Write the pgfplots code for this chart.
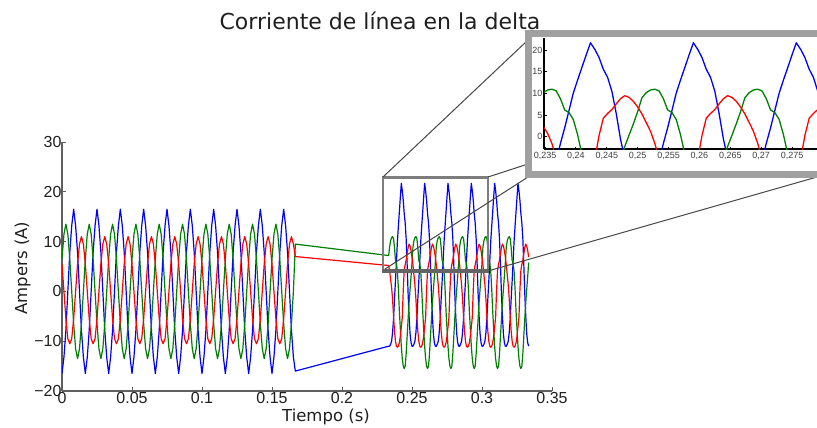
\documentclass[border=0pt]{standalone}
\usepackage{fontspec}
\setmainfont{Liberation Sans}
\newfontfamily\titlefont{DejaVu Sans}
\usepackage{pgfplots}
\pgfplotsset{compat=1.18}
\usepackage{pgfplotstable}

\definecolor{mblue}{RGB}{0,0,255}
\definecolor{mgreen}{RGB}{0,128,0}
\definecolor{mred}{RGB}{255,0,0}
\definecolor{axgray}{RGB}{95,95,95}
\definecolor{boxgray}{RGB}{125,125,125}
\definecolor{framegray}{RGB}{160,160,160}
\definecolor{linkgray}{RGB}{70,70,70}

\pgfplotstableread{
t B G R
0.00000 -16.5 6.5 5.5
0.00139 -13.2 11.5 0
0.00278 -7.8 13.5 -5.5
0.00417 0 11.5 -9.5
0.00556 7.8 6.5 -10.5
0.00694 13.2 0 -9.5
0.00833 16.5 -6.5 -5.5
0.00972 13.2 -11.5 0
0.01111 7.8 -13.5 5.5
0.01250 0 -11.5 9.5
0.01389 -7.8 -6.5 11
0.01528 -13.2 0 9.5
0.01667 -16.5 6.5 5.5
0.01806 -13.2 11.5 0
0.01944 -7.8 13.5 -5.5
0.02083 0 11.5 -9.5
0.02222 7.8 6.5 -10.5
0.02361 13.2 0 -9.5
0.02500 16.5 -6.5 -5.5
0.02639 13.2 -11.5 0
0.02778 7.8 -13.5 5.5
0.02917 0 -11.5 9.5
0.03056 -7.8 -6.5 11
0.03194 -13.2 0 9.5
0.03333 -16.5 6.5 5.5
0.03472 -13.2 11.5 0
0.03611 -7.8 13.5 -5.5
0.03750 0 11.5 -9.5
0.03889 7.8 6.5 -10.5
0.04028 13.2 0 -9.5
0.04167 16.5 -6.5 -5.5
0.04306 13.2 -11.5 0
0.04444 7.8 -13.5 5.5
0.04583 0 -11.5 9.5
0.04722 -7.8 -6.5 11
0.04861 -13.2 0 9.5
0.05000 -16.5 6.5 5.5
0.05139 -13.2 11.5 0
0.05278 -7.8 13.5 -5.5
0.05417 0 11.5 -9.5
0.05556 7.8 6.5 -10.5
0.05694 13.2 0 -9.5
0.05833 16.5 -6.5 -5.5
0.05972 13.2 -11.5 0
0.06111 7.8 -13.5 5.5
0.06250 0 -11.5 9.5
0.06389 -7.8 -6.5 11
0.06528 -13.2 0 9.5
0.06667 -16.5 6.5 5.5
0.06806 -13.2 11.5 0
0.06944 -7.8 13.5 -5.5
0.07083 0 11.5 -9.5
0.07222 7.8 6.5 -10.5
0.07361 13.2 0 -9.5
0.07500 16.5 -6.5 -5.5
0.07639 13.2 -11.5 0
0.07778 7.8 -13.5 5.5
0.07917 0 -11.5 9.5
0.08056 -7.8 -6.5 11
0.08194 -13.2 0 9.5
0.08333 -16.5 6.5 5.5
0.08472 -13.2 11.5 0
0.08611 -7.8 13.5 -5.5
0.08750 0 11.5 -9.5
0.08889 7.8 6.5 -10.5
0.09028 13.2 0 -9.5
0.09167 16.5 -6.5 -5.5
0.09306 13.2 -11.5 0
0.09444 7.8 -13.5 5.5
0.09583 0 -11.5 9.5
0.09722 -7.8 -6.5 11
0.09861 -13.2 0 9.5
0.10000 -16.5 6.5 5.5
0.10139 -13.2 11.5 0
0.10278 -7.8 13.5 -5.5
0.10417 0 11.5 -9.5
0.10556 7.8 6.5 -10.5
0.10694 13.2 0 -9.5
0.10833 16.5 -6.5 -5.5
0.10972 13.2 -11.5 0
0.11111 7.8 -13.5 5.5
0.11250 0 -11.5 9.5
0.11389 -7.8 -6.5 11
0.11528 -13.2 0 9.5
0.11667 -16.5 6.5 5.5
0.11806 -13.2 11.5 0
0.11944 -7.8 13.5 -5.5
0.12083 0 11.5 -9.5
0.12222 7.8 6.5 -10.5
0.12361 13.2 0 -9.5
0.12500 16.5 -6.5 -5.5
0.12639 13.2 -11.5 0
0.12778 7.8 -13.5 5.5
0.12917 0 -11.5 9.5
0.13056 -7.8 -6.5 11
0.13194 -13.2 0 9.5
0.13333 -16.5 6.5 5.5
0.13472 -13.2 11.5 0
0.13611 -7.8 13.5 -5.5
0.13750 0 11.5 -9.5
0.13889 7.8 6.5 -10.5
0.14028 13.2 0 -9.5
0.14167 16.5 -6.5 -5.5
0.14306 13.2 -11.5 0
0.14444 7.8 -13.5 5.5
0.14583 0 -11.5 9.5
0.14722 -7.8 -6.5 11
0.14861 -13.2 0 9.5
0.15000 -16.5 6.5 5.5
0.15139 -13.2 11.5 0
0.15278 -7.8 13.5 -5.5
0.15417 0 11.5 -9.5
0.15556 7.8 6.5 -10.5
0.15694 13.2 0 -9.5
0.15833 16.5 -6.5 -5.5
0.15972 13.2 -11.5 0
0.16111 7.8 -13.5 5.5
0.16250 0 -11.5 9.5
0.16389 -7.8 -6.5 11
0.16528 -13.2 0 9.5
0.16667 -16 9.5 7
0.23333 -11 7.2 5.2
0.23403 -11 9.0 4.0
0.23472 -10.6 10.2 2.4
0.23542 -10 10.8 0.8
0.23611 -8.3 11 -1.5
0.23681 -5.5 10.6 -5
0.23750 -1.5 8.8 -8
0.23819 2.1 6.2 -10
0.23889 6.1 5.6 -11
0.23958 10.1 4 -11.2
0.24028 13.1 0.5 -11
0.24097 16 -4 -10.3
0.24167 18.9 -7.5 -9
0.24236 21.7 -11 -7.2
0.24306 20.2 -13.5 -5.2
0.24375 18.3 -15 0.3
0.24444 15.6 -15.5 4.3
0.24514 13.7 -15 5.4
0.24583 10.5 -12.5 6.3
0.24653 5.4 -9 7.6
0.24722 -0.5 -5.5 8.8
0.24792 -5 -2.2 9.5
0.24861 -8.5 0.4 9.1
0.24931 -10.3 3.0 8.2
0.25000 -11 5.8 6.9
0.25069 -11 9.0 5.3
0.25139 -10.6 10.2 3.3
0.25208 -10 10.8 1.3
0.25278 -8.3 11 -1.5
0.25347 -5.5 10.6 -5
0.25417 -1.5 8.8 -8
0.25486 2.1 6.2 -10
0.25556 6.1 5.6 -11
0.25625 10.1 4 -11.2
0.25694 13.1 0.5 -11
0.25764 16 -4 -10.3
0.25833 18.9 -7.5 -9
0.25903 21.7 -11 -7.2
0.25972 20.2 -13.5 -5.2
0.26042 18.3 -15 0.3
0.26111 15.6 -15.5 4.3
0.26181 13.7 -15 5.4
0.26250 10.5 -12.5 6.3
0.26319 5.4 -9 7.6
0.26389 -0.5 -5.5 8.8
0.26458 -5 -2.2 9.5
0.26528 -8.5 0.4 9.1
0.26597 -10.3 3.0 8.2
0.26667 -11 5.8 6.9
0.26736 -11 9.0 5.3
0.26806 -10.6 10.2 3.3
0.26875 -10 10.8 1.3
0.26944 -8.3 11 -1.5
0.27014 -5.5 10.6 -5
0.27083 -1.5 8.8 -8
0.27153 2.1 6.2 -10
0.27222 6.1 5.6 -11
0.27292 10.1 4 -11.2
0.27361 13.1 0.5 -11
0.27431 16 -4 -10.3
0.27500 18.9 -7.5 -9
0.27569 21.7 -11 -7.2
0.27639 20.2 -13.5 -5.2
0.27708 18.3 -15 0.3
0.27778 15.6 -15.5 4.3
0.27847 13.7 -15 5.4
0.27917 10.5 -12.5 6.3
0.27986 5.4 -9 7.6
0.28056 -0.5 -5.5 8.8
0.28125 -5 -2.2 9.5
0.28194 -8.5 0.4 9.1
0.28264 -10.3 3.0 8.2
0.28333 -11 5.8 6.9
0.28403 -11 9.0 5.3
0.28472 -10.6 10.2 3.3
0.28542 -10 10.8 1.3
0.28611 -8.3 11 -1.5
0.28681 -5.5 10.6 -5
0.28750 -1.5 8.8 -8
0.28819 2.1 6.2 -10
0.28889 6.1 5.6 -11
0.28958 10.1 4 -11.2
0.29028 13.1 0.5 -11
0.29097 16 -4 -10.3
0.29167 18.9 -7.5 -9
0.29236 21.7 -11 -7.2
0.29306 20.2 -13.5 -5.2
0.29375 18.3 -15 0.3
0.29444 15.6 -15.5 4.3
0.29514 13.7 -15 5.4
0.29583 10.5 -12.5 6.3
0.29653 5.4 -9 7.6
0.29722 -0.5 -5.5 8.8
0.29792 -5 -2.2 9.5
0.29861 -8.5 0.4 9.1
0.29931 -10.3 3.0 8.2
0.30000 -11 5.8 6.9
0.30069 -11 9.0 5.3
0.30139 -10.6 10.2 3.3
0.30208 -10 10.8 1.3
0.30278 -8.3 11 -1.5
0.30347 -5.5 10.6 -5
0.30417 -1.5 8.8 -8
0.30486 2.1 6.2 -10
0.30556 6.1 5.6 -11
0.30625 10.1 4 -11.2
0.30694 13.1 0.5 -11
0.30764 16 -4 -10.3
0.30833 18.9 -7.5 -9
0.30903 21.7 -11 -7.2
0.30972 20.2 -13.5 -5.2
0.31042 18.3 -15 0.3
0.31111 15.6 -15.5 4.3
0.31181 13.7 -15 5.4
0.31250 10.5 -12.5 6.3
0.31319 5.4 -9 7.6
0.31389 -0.5 -5.5 8.8
0.31458 -5 -2.2 9.5
0.31528 -8.5 0.4 9.1
0.31597 -10.3 3.0 8.2
0.31667 -11 5.8 6.9
0.31736 -11 9.0 5.3
0.31806 -10.6 10.2 3.3
0.31875 -10 10.8 1.3
0.31944 -8.3 11 -1.5
0.32014 -5.5 10.6 -5
0.32083 -1.5 8.8 -8
0.32153 2.1 6.2 -10
0.32222 6.1 5.6 -11
0.32292 10.1 4 -11.2
0.32361 13.1 0.5 -11
0.32431 16 -4 -10.3
0.32500 18.9 -7.5 -9
0.32569 21.7 -11 -7.2
0.32639 20.2 -13.5 -5.2
0.32708 18.3 -15 0.3
0.32778 15.6 -15.5 4.3
0.32847 13.7 -15 5.4
0.32917 10.5 -12.5 6.3
0.32986 5.4 -9 7.6
0.33056 -0.5 -5.5 8.8
0.33125 -5 -2.2 9.5
0.33194 -8.5 0.4 9.1
0.33264 -10.3 3.0 8.2
0.33333 -11 5.8 6.9
}\data

\begin{document}
\begin{tikzpicture}[x=1bp,y=1bp]
\useasboundingbox (0,0) rectangle (817,427);
\coordinate (mainSW) at (62,36);
\coordinate (insetSW) at (544,278);
\begin{axis}[
  at={(mainSW)}, anchor=south west, scale only axis,
  width=490bp, height=249bp,
  xmin=0, xmax=0.35, ymin=-20, ymax=30,
  axis x line=bottom, axis y line=left,
  axis line style={-, axgray, line width=1.3bp},
  every outer x axis line/.append style={-},
  every outer y axis line/.append style={-},
  tick style={axgray, line width=1bp},
  tick align=inside, major tick length=4bp,
  xtick={0,0.05,0.1,0.15,0.2,0.25,0.3,0.35},
  xticklabels={0,0.05,0.1,0.15,0.2,0.25,0.3,0.35},
  ytick={-20,-10,0,10,20,30},
  yticklabels={−20,−10,0,10,20,30},
  ticklabel style={font=\fontsize{16bp}{16bp}\selectfont, text=black!88},
  xticklabel style={yshift=2.5bp},
  yticklabel style={xshift=3bp},
  every axis plot/.append style={line width=1.2bp, line join=round},
]
\addplot[mblue] table[x=t,y=B]{\data};
\addplot[mgreen] table[x=t,y=G]{\data};
\addplot[mred] table[x=t,y=R]{\data};
\end{axis}

% zoom box
\draw[boxgray, line width=2bp] (383,156) -- (383,250);
\draw[boxgray, line width=2bp] (488,156) -- (488,250);
\draw[boxgray, line width=3bp] (382,250) -- (489,250);
\draw[boxgray!80!black, line width=3.5bp] (382,156) -- (489,156);
% connecting lines
\draw[linkgray, line width=1bp] (383,250) -- (528,387);
\draw[linkgray, line width=1bp] (488,250) -- (528,263);
\draw[linkgray, line width=1bp] (385,158) -- (528,250);
\draw[linkgray, line width=1bp] (488,156) -- (817,250);

% inset frame
\fill[white] (528,253) rectangle (821,394);
\draw[framegray, line width=7bp] (528.5,253) rectangle (823,393);

\begin{axis}[
  at={(insetSW)}, anchor=south west, scale only axis,
  width=273bp, height=111bp,
  xmin=0.23484, xmax=0.27905, ymin=-2.8, ymax=22.8,
  axis x line=bottom, axis y line=left,
  axis line style={-, black, line width=1.2bp},
  every outer x axis line/.append style={-},
  every outer y axis line/.append style={-},
  tick style={black, line width=0.8bp},
  tick align=inside, major tick length=2.5bp,
  xtick={0.235,0.24,0.245,0.25,0.255,0.26,0.265,0.27,0.275},
  xticklabels={{0,235},{0,24},{0,245},{0,25},{0,255},{0,26},{0,265},{0,27},{0,275}},
  ytick={0,5,10,15,20},
  yticklabels={0,5,10,15,20},
  ticklabel style={font=\fontsize{9bp}{9bp}\selectfont, text=black!75},
  xticklabel style={inner sep=1.5bp, yshift=-2bp},
  yticklabel style={inner sep=1.5bp},
  every axis plot/.append style={line width=1.3bp, line join=round},
]
\addplot[mblue] table[x=t,y=B]{\data};
\addplot[mgreen] table[x=t,y=G]{\data};
\addplot[mred] table[x=t,y=R]{\data};
\end{axis}

% title and labels
\node[anchor=base, font=\titlefont\fontsize{22bp}{22bp}\selectfont, text=black!88] at (380,397) {Corriente de línea en la delta};
\node[anchor=base, font=\titlefont\fontsize{16.5bp}{16.5bp}\selectfont, text=black!88] at (326,6) {Tiempo (s)};
\node[anchor=base, rotate=90, font=\titlefont\fontsize{16.5bp}{16.5bp}\selectfont, text=black!88] at (27,159) {Ampers (A)};
\end{tikzpicture}
\end{document}
